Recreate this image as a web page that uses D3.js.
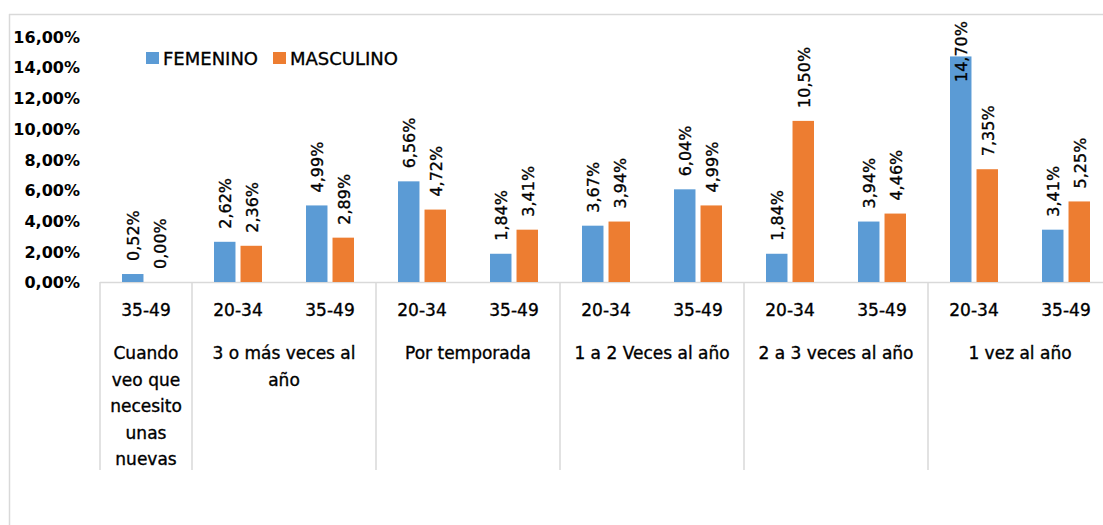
<!DOCTYPE html>
<html><head><meta charset="utf-8">
<script src="https://cdn.jsdelivr.net/npm/d3@7"></script>
<style>
html,body{margin:0;padding:0;background:#fff;}
svg{display:block;}
</style></head>
<body>
<svg id="chart" width="1103" height="525"></svg>
<script>
// ---- data ----
const groups = ["Cuando\nveo que\nnecesito\nunas\nnuevas", "3 o más veces al\naño", "Por temporada", "1 a 2 Veces al año", "2 a 3 veces al año", "1 vez al año"];
const groupSpans = [1, 2, 2, 2, 2, 2];
const ages = ["35-49", "20-34", "35-49", "20-34", "35-49", "20-34", "35-49", "20-34", "35-49", "20-34", "35-49"];
const femenino = [0.52, 2.62, 4.99, 6.56, 1.84, 3.67, 6.04, 1.84, 3.94, 14.70, 3.41];
const masculino = [0.00, 2.36, 2.89, 4.72, 3.41, 3.94, 4.99, 10.50, 4.46, 7.35, 5.25];
const seriesNames = ["FEMENINO", "MASCULINO"];
const yTicks = [0, 2, 4, 6, 8, 10, 12, 14, 16];

const colors = {FEMENINO: "#5B9BD5", MASCULINO: "#ED7D31"};
const svg = d3.select("#chart");
const gridColor = "#d9d9d9";
const heavy = t => t.attr("stroke", "#000").attr("stroke-width", 0.35);

// frame
svg.append("line").attr("x1", 9).attr("x2", 1103).attr("y1", 14.5).attr("y2", 14.5).attr("stroke", gridColor).attr("stroke-width", 1.5);
svg.append("line").attr("x1", 9.5).attr("x2", 9.5).attr("y1", 14).attr("y2", 525).attr("stroke", gridColor).attr("stroke-width", 1.5);

const left = 100, slot = 92, baseY = 282, topY = 36.5, plotTop = 21;
const idx = ages.map((d, i) => i);
const x = d3.scaleBand().domain(idx).range([left, left + slot * ages.length]).padding(0);
const xs = d3.scaleBand().domain(seriesNames).range([0, x.bandwidth()]).paddingInner(0.19).paddingOuter(0.83);
const y = d3.scaleLinear().domain([0, 16]).range([baseY, topY]);

// y axis labels
const yAxis = d3.axisLeft(y).tickValues(yTicks).tickSize(0).tickPadding(0)
  .tickFormat(d => d.toFixed(2).replace(".", ",") + "%");
const ga = svg.append("g").attr("transform", "translate(80,0)").call(yAxis);
ga.select(".domain").remove();
ga.selectAll("text").attr("font-family", "DejaVu Sans").attr("font-weight", "bold").attr("font-size", 16).attr("fill", "#000").attr("dy", "0.36em");

// x axis line
svg.append("line").attr("x1", left).attr("x2", 1103).attr("y1", baseY + 0.5).attr("y2", baseY + 0.5).attr("stroke", gridColor).attr("stroke-width", 1.5);

// group dividers
let cum = 0;
const bounds = [0];
groupSpans.forEach(s => { cum += s; bounds.push(cum); });
bounds.forEach(b => {
  const bx = b < ages.length ? x(b) : x(ages.length - 1) + x.bandwidth();
  svg.append("line").attr("x1", bx).attr("x2", bx).attr("y1", baseY).attr("y2", 470).attr("stroke", gridColor).attr("stroke-width", 1.5);
});

// bars
const rows = idx.map(i => ({i, vals: [{s: "FEMENINO", v: femenino[i]}, {s: "MASCULINO", v: masculino[i]}]}));
const gBars = svg.append("g");
rows.forEach(r => {
  r.vals.forEach(d => {
    gBars.append("rect")
      .attr("x", x(r.i) + xs(d.s)).attr("width", xs.bandwidth())
      .attr("y", y(d.v)).attr("height", baseY - y(d.v))
      .attr("fill", colors[d.s]);
  });
});
// labels
rows.forEach(r => {
  r.vals.forEach(d => {
    const cx = x(r.i) + xs(d.s) + xs.bandwidth() / 2;
    const t = svg.append("text")
      .attr("font-family", "DejaVu Sans").attr("font-size", 16).attr("fill", "#000")
      .attr("dominant-baseline", "central")
      .text(d.v.toFixed(2).replace(".", ",") + "%");
    heavy(t);
    const len = t.node().getComputedTextLength();
    let start = y(d.v) - 13;
    if (start - len < plotTop) start = plotTop + len;
    t.attr("transform", `translate(${cx + 1},${start}) rotate(-90)`);
  });
});

// age labels
heavy(svg.append("g").selectAll("text").data(idx).join("text")
  .attr("x", i => x(i) + x.bandwidth() / 2).attr("y", 310)
  .attr("text-anchor", "middle").attr("dominant-baseline", "central")
  .attr("font-family", "DejaVu Sans").attr("font-size", 17).attr("fill", "#000")
  .text(i => ages[i]));

// group labels
groups.forEach((g, gi) => {
  const a = bounds[gi], b = bounds[gi + 1];
  const cx = (x(a) + x(b - 1) + x.bandwidth()) / 2;
  const t = svg.append("text").attr("text-anchor", "middle")
    .attr("font-family", "DejaVu Sans").attr("font-size", 17).attr("fill", "#000");
  heavy(t);
  g.split("\n").forEach((line, li) => {
    t.append("tspan").attr("x", cx).attr("y", 353 + li * 26.5).attr("dominant-baseline", "central").text(line);
  });
});

// legend
const legend = svg.append("g");
const legX = [146, 273];
seriesNames.forEach((s, i) => {
  legend.append("rect").attr("x", legX[i]).attr("y", 52).attr("width", 13).attr("height", 12).attr("fill", colors[s]);
  heavy(legend.append("text").attr("x", legX[i] + 17).attr("y", 58).attr("dominant-baseline", "central")
    .attr("font-family", "DejaVu Sans").attr("font-size", 18).attr("fill", "#000").text(s));
});
</script>
</body></html>
